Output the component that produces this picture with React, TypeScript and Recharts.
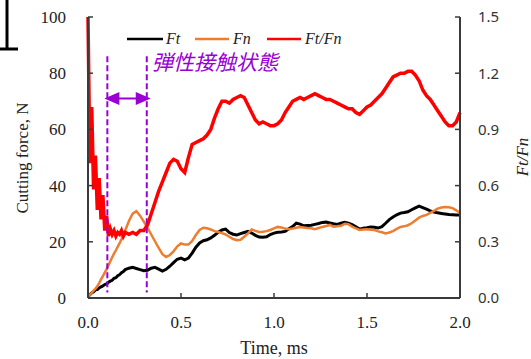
import React from "react";
import { LineChart, Line, XAxis, YAxis, ReferenceLine } from "recharts";

// time axis, ms
const timeMs = [
  0, 0.01, 0.02, 0.03, 0.04, 0.05, 0.06, 0.07, 0.08, 0.09,
  0.1, 0.11, 0.12, 0.13, 0.14, 0.15, 0.16, 0.17, 0.18, 0.19,
  0.2, 0.22, 0.24, 0.26, 0.28, 0.3, 0.32, 0.34, 0.36, 0.38,
  0.4, 0.42, 0.44, 0.46, 0.48, 0.5, 0.52, 0.54, 0.56, 0.58,
  0.6, 0.62, 0.64, 0.66, 0.68, 0.7, 0.72, 0.74, 0.76, 0.78,
  0.8, 0.82, 0.84, 0.86, 0.88, 0.9, 0.92, 0.94, 0.96, 0.98,
  1.0, 1.02, 1.04, 1.06, 1.08, 1.1, 1.12, 1.14, 1.16, 1.18,
  1.2, 1.22, 1.24, 1.26, 1.28, 1.3, 1.32, 1.34, 1.36, 1.38,
  1.4, 1.42, 1.44, 1.46, 1.48, 1.5, 1.52, 1.54, 1.56, 1.58,
  1.6, 1.62, 1.64, 1.66, 1.68, 1.7, 1.72, 1.74, 1.76, 1.78,
  1.8, 1.82, 1.84, 1.86, 1.88, 1.9, 1.92, 1.94, 1.96, 1.98,
  2.0,
];

// Ft, N
const ftValues = [
  0.5, 1.2, 1.8, 2.2, 2.9, 3.0, 3.6, 4.0, 4.3, 4.8,
  5.0, 5.6, 6.0, 6.3, 7.0, 7.2, 7.9, 8.3, 9.0, 9.4,
  10.1, 10.6, 10.9, 10.5, 10.1, 9.7, 9.9, 10.6, 10.9, 10.3,
  9.6, 10.2, 11.3, 12.6, 13.8, 14.2, 13.6, 14.2, 16.0, 18.1,
  19.6, 20.4, 20.7, 21.4, 22.3, 23.4, 24.2, 24.5, 23.3, 22.7,
  22.4, 22.9, 23.3, 23.7, 23.1, 22.3, 21.7, 21.6, 21.8, 22.6,
  23.1, 23.4, 23.5, 23.7, 24.6, 25.4, 26.6, 26.3, 25.7, 25.8,
  25.9, 26.2, 26.5, 26.9, 27.0, 26.7, 26.4, 26.2, 26.6, 26.9,
  26.6, 26.1, 25.3, 24.5, 24.8, 25.0, 25.3, 25.2, 24.9, 25.4,
  26.6, 27.9, 28.8, 29.6, 30.2, 30.4, 30.7, 31.4, 32.1, 32.7,
  32.2, 31.6, 31.0, 30.6, 30.3, 30.1, 29.9, 29.7, 29.6, 29.5,
  29.5,
];

// Fn, N
const fnValues = [
  0.5, 1.1, 1.8, 2.6, 3.3, 4.2, 5.3, 6.6, 7.8, 9.0,
  10.3, 11.7, 13.1, 14.5, 15.8, 17.0, 18.3, 19.5, 20.9, 22.5,
  24.0, 27.4, 30.0, 30.9, 29.3, 27.2, 25.0, 22.6, 20.2, 17.8,
  15.6, 14.6, 15.3, 16.6, 18.4, 19.4, 19.0, 19.0, 20.3, 22.4,
  24.2, 25.0, 24.8, 24.4, 23.8, 23.5, 23.1, 22.6, 21.8, 21.0,
  20.6, 20.7, 21.8, 23.0, 24.4, 23.9, 23.5, 23.6, 23.8, 24.2,
  24.8, 25.3, 25.1, 24.7, 24.5, 24.7, 25.0, 25.3, 25.1, 24.9,
  24.8, 24.5, 24.9, 25.3, 25.6, 26.0, 25.4, 25.5, 25.7, 26.4,
  26.3, 25.4, 24.8, 24.2, 24.4, 24.5, 24.3, 24.2, 23.7, 23.4,
  23.0, 23.3, 23.8, 24.6, 25.3, 25.5, 25.9, 26.6, 27.6, 28.6,
  29.2, 29.6, 30.3, 31.0, 31.8, 32.2, 32.4, 32.3, 32.0, 31.2,
  30.3,
];

// Ft/Fn
const ratioValues = [
  1.5, 0.72, 1.02, 0.58, 0.76, 0.47, 0.64, 0.42, 0.55, 0.36,
  0.44, 0.33, 0.37, 0.34, 0.36, 0.33, 0.35, 0.34, 0.36, 0.33,
  0.35, 0.34, 0.35, 0.34, 0.36, 0.36, 0.39, 0.45, 0.51, 0.57,
  0.62, 0.67, 0.72, 0.74, 0.73, 0.69, 0.67, 0.75, 0.82, 0.83,
  0.84, 0.85, 0.87, 0.9, 0.96, 1.01, 1.05, 1.05, 1.04, 1.06,
  1.07, 1.08, 1.07, 1.03, 0.99, 0.95, 0.93, 0.94, 0.93, 0.92,
  0.92, 0.93, 0.95, 0.99, 1.02, 1.05, 1.06, 1.07, 1.06, 1.07,
  1.08, 1.09, 1.08, 1.07, 1.06, 1.06, 1.05, 1.04, 1.03, 1.02,
  1.01, 1.01, 0.99, 0.98, 1.0, 1.02, 1.03, 1.05, 1.07, 1.09,
  1.12, 1.15, 1.18, 1.19, 1.2, 1.2, 1.21, 1.21, 1.19, 1.16,
  1.11, 1.08, 1.06, 1.03, 1.0, 0.97, 0.94, 0.92, 0.92, 0.94,
  0.99,
];

const xTicks = [0, 0.5, 1.0, 1.5, 2.0];
const forceTicks = [0, 20, 40, 60, 80, 100];
const ratioTicks = [0, 0.3, 0.6, 0.9, 1.2, 1.5];

// elastic contact window (ms) and arrow height (N)
const contactStart = 0.104;
const contactEnd = 0.316;
const arrowLevel = 71;

const data = timeMs.map((t, i) => ({
  t,
  ft: ftValues[i],
  fn: fnValues[i],
  ratio: ratioValues[i],
}));

const SERIF = "'Liberation Serif', 'Times New Roman', serif";
const PURPLE = "#9A00D6";
const AXIS = "#3a3a3a";

const ArrowShape = (p: any) => {
  const { x1, y1, x2 } = p;
  const l = Math.min(x1, x2) - 3;
  const r = Math.max(x1, x2) + 4;
  const y = y1;
  return (
    <g>
      <line x1={l + 10} y1={y} x2={r - 10} y2={y} stroke={PURPLE} strokeWidth={2} />
      <polygon points={`${l},${y} ${l + 15},${y - 6.5} ${l + 15},${y + 6.5}`} fill={PURPLE} />
      <polygon points={`${r},${y} ${r - 15},${y - 6.5} ${r - 15},${y + 6.5}`} fill={PURPLE} />
    </g>
  );
};

export default function App() {
  return (
    <div style={{ position: "absolute", left: 0, top: 0, width: 531, height: 359, background: "#fff" }}>
      <LineChart
        width={531}
        height={359}
        data={data}
        margin={{ top: 17, right: 26, bottom: 31, left: 38 }}
      >
        <XAxis
          xAxisId="b"
          dataKey="t"
          type="number"
          domain={[0, 2]}
          ticks={xTicks}
          tickFormatter={(v: number) => v.toFixed(1)}
          height={30}
          axisLine={{ stroke: AXIS, strokeWidth: 2 }}
          tickLine={{ stroke: AXIS, strokeWidth: 1.5 }}
          tickSize={-5}
          tickMargin={23}
          tick={{ fontSize: 17, fill: "#222", fontFamily: SERIF }}
        />
        <XAxis
          xAxisId="t"
          orientation="top"
          dataKey="t"
          type="number"
          domain={[0, 2]}
          height={0}
          tick={false}
          tickLine={false}
          axisLine={{ stroke: AXIS, strokeWidth: 2 }}
        />
        <YAxis
          yAxisId="l"
          domain={[0, 100]}
          ticks={forceTicks}
          width={50}
          axisLine={{ stroke: AXIS, strokeWidth: 2 }}
          tickLine={{ stroke: AXIS, strokeWidth: 1.5 }}
          tickSize={-5}
          tickMargin={27}
          tick={{ fontSize: 17, fill: "#222", fontFamily: SERIF }}
        />
        <YAxis
          yAxisId="r"
          orientation="right"
          domain={[0, 1.5]}
          ticks={ratioTicks}
          tickFormatter={(v: number) => v.toFixed(1)}
          width={45}
          axisLine={{ stroke: AXIS, strokeWidth: 2 }}
          tickLine={{ stroke: AXIS, strokeWidth: 1.5 }}
          tickSize={-5}
          tickMargin={23}
          tick={{ fontSize: 15, fill: "#333", fontFamily: "'Noto Sans', sans-serif" }}
        />
        <Line
          xAxisId="b"
          yAxisId="l"
          dataKey="ft"
          stroke="#000"
          strokeWidth={3}
          dot={false}
          isAnimationActive={false}
        />
        <Line
          xAxisId="b"
          yAxisId="l"
          dataKey="fn"
          stroke="#ED7D31"
          strokeWidth={2.5}
          dot={false}
          isAnimationActive={false}
        />
        <Line
          xAxisId="b"
          yAxisId="r"
          dataKey="ratio"
          stroke="#FF0000"
          strokeWidth={3.5}
          dot={false}
          isAnimationActive={false}
        />
        <ReferenceLine
          xAxisId="b"
          yAxisId="l"
          segment={[{ x: contactStart, y: 86 }, { x: contactStart, y: 2 }]}
          stroke={PURPLE}
          strokeWidth={2}
          strokeDasharray="6 3"
        />
        <ReferenceLine
          xAxisId="b"
          yAxisId="l"
          segment={[{ x: contactEnd, y: 86 }, { x: contactEnd, y: 2 }]}
          stroke={PURPLE}
          strokeWidth={2}
          strokeDasharray="6 3"
        />
        <ReferenceLine
          xAxisId="b"
          yAxisId="l"
          segment={[{ x: contactStart, y: arrowLevel }, { x: contactEnd, y: arrowLevel }]}
          shape={ArrowShape}
        />
      </LineChart>

      <svg
        width={531}
        height={359}
        style={{ position: "absolute", left: 0, top: 0, pointerEvents: "none" }}
      >
        {/* cropped fragment at the top left */}
        <line x1={7} y1={0} x2={7} y2={50} stroke="#000" strokeWidth={3} />
        <line x1={0} y1={49} x2={18} y2={49} stroke="#000" strokeWidth={3} />

        {/* legend */}
        <line x1={127} y1={39} x2={163} y2={39} stroke="#000" strokeWidth={2.5} />
        <text x={166} y={44} fontFamily={SERIF} fontStyle="italic" fontSize={16} fill="#222">Ft</text>
        <line x1={195} y1={39} x2={229} y2={39} stroke="#ED7D31" strokeWidth={2.5} />
        <text x={233} y={44} fontFamily={SERIF} fontStyle="italic" fontSize={16} fill="#222">Fn</text>
        <line x1={267} y1={39} x2={301} y2={39} stroke="#FF0000" strokeWidth={2.5} />
        <text x={305} y={44} fontFamily={SERIF} fontStyle="italic" fontSize={16} fill="#222">Ft/Fn</text>

        {/* annotation */}
        <text
          x={152}
          y={70}
          fontFamily="'Noto Sans CJK JP', sans-serif"
          fontStyle="italic"
          fontSize={21}
          fill={PURPLE}
        >
          弾性接触状態
        </text>

        {/* axis titles */}
        <text
          x={22}
          y={158}
          transform="rotate(-90 22 158)"
          textAnchor="middle"
          dominantBaseline="central"
          fontFamily={SERIF}
          fontSize={17}
          fill="#222"
        >
          Cutting force, N
        </text>
        <text x={274} y={354} textAnchor="middle" fontFamily={SERIF} fontSize={18} fill="#222">
          Time, ms
        </text>
        <text
          x={522}
          y={157}
          transform="rotate(-90 522 157)"
          textAnchor="middle"
          dominantBaseline="central"
          fontFamily={SERIF}
          fontStyle="italic"
          fontSize={17}
          fill="#222"
        >
          Ft/Fn
        </text>
      </svg>
    </div>
  );
}
